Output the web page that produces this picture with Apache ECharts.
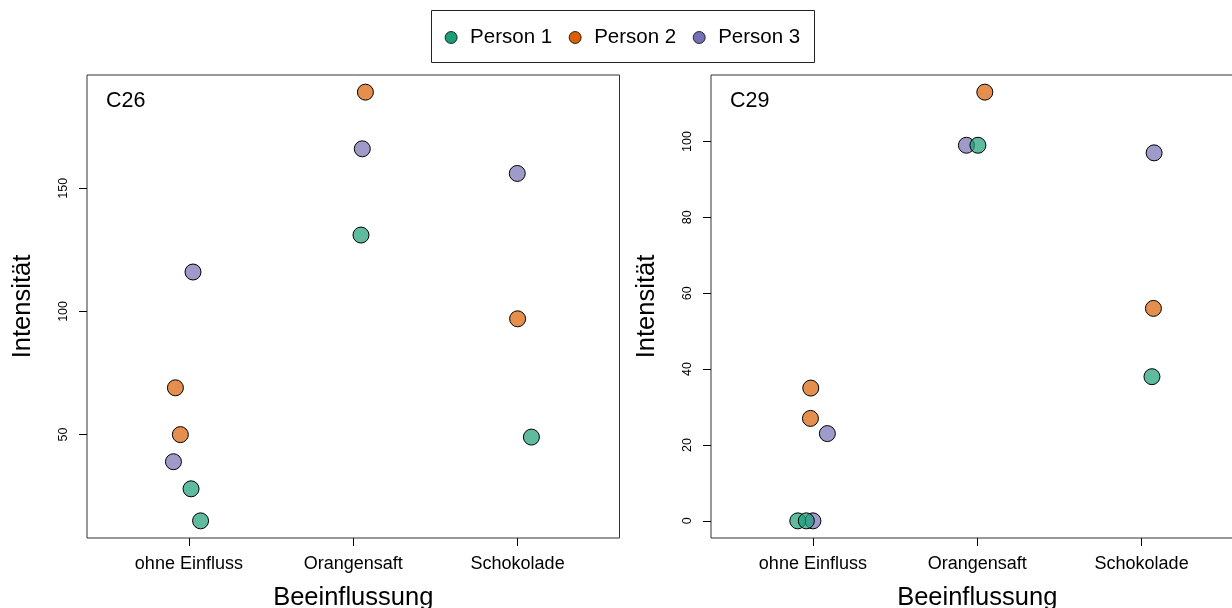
<!DOCTYPE html>
<html>
<head>
<meta charset="utf-8">
<script src="https://cdn.jsdelivr.net/npm/echarts@6/dist/echarts.min.js"></script>
<style>
html,body{margin:0;padding:0;background:#fff;}
#chart{width:1232px;height:608px;}
</style>
</head>
<body>
<div id="chart"></div>
<script>
// ---- data ----
const categories = ['ohne Einfluss', 'Orangensaft', 'Schokolade'];
const categoryPositions = [1, 2, 3];
const persons = ['Person 1', 'Person 2', 'Person 3'];
const personColors = ['#1B9E77', '#D95F02', '#7570B3'];
const panelTitles = ['C26', 'C29'];

// C26 (jittered category position, intensity)
const c26_p1_x = [1.013, 1.071, 2.047, 3.084];
const c26_p1_y = [28, 15, 131, 49];
const c26_p2_x = [0.918, 0.948, 2.074, 3.000];
const c26_p2_y = [69, 50, 189, 97];
const c26_p3_x = [1.025, 0.906, 2.055, 2.998];
const c26_p3_y = [116, 39, 166, 156];
const c26_yTicks = [50, 100, 150];

// C29
const c29_p1_x = [0.908, 0.960, 2.004, 3.063];
const c29_p1_y = [0, 0, 99, 38];
const c29_p2_x = [0.987, 0.985, 2.046, 3.072];
const c29_p2_y = [35, 27, 113, 56];
const c29_p3_x = [1.000, 1.088, 1.934, 3.076];
const c29_p3_y = [0, 23, 99, 97];
const c29_yTicks = [0, 20, 40, 60, 80, 100];

// ---- helpers ----
const FONT = '"Liberation Sans", Arial, Helvetica, sans-serif';
function zip(xs, ys) { return xs.map((x, i) => [x, ys[i]]); }
function rExtent(vals) {
  const mn = Math.min(...vals), mx = Math.max(...vals);
  const pad = (mx - mn) * 0.04;
  return [mn - pad, mx + pad];
}
function rgba(hex, a) {
  const n = parseInt(hex.slice(1), 16);
  return 'rgba(' + (n >> 16) + ',' + ((n >> 8) & 255) + ',' + (n & 255) + ',' + a + ')';
}

const panels = [
  { xs: [c26_p1_x, c26_p2_x, c26_p3_x], ys: [c26_p1_y, c26_p2_y, c26_p3_y], ticks: c26_yTicks },
  { xs: [c29_p1_x, c29_p2_x, c29_p3_x], ys: [c29_p1_y, c29_p2_y, c29_p3_y], ticks: c29_yTicks }
];
const xExt = [0.5 - 0.12, 3.5 + 0.12];

const grids = [
  { left: 87, top: 75, width: 532.5, height: 463 },
  { left: 711, top: 75, width: 532.5, height: 463 }
];

const xAxes = [], yAxes = [], series = [];
panels.forEach((p, gi) => {
  const allY = [].concat(...p.ys);
  const yExt = rExtent(allY);
  xAxes.push({
    type: 'value', gridIndex: gi, min: xExt[0], max: xExt[1], position: 'bottom',
    splitLine: { show: false },
    axisLine: { show: false, onZero: false },
    axisTick: { show: true, customValues: categoryPositions, length: 8, lineStyle: { color: '#000' } },
    axisLabel: {
      customValues: categoryPositions, margin: 17, color: '#000', fontSize: 18, fontFamily: FONT,
      formatter: v => categories[Math.round(v) - 1]
    },
    name: 'Beeinflussung', nameLocation: 'middle', nameGap: 47,
    nameTextStyle: { color: '#000', fontSize: 25.5, fontFamily: FONT }
  });
  yAxes.push({
    type: 'value', gridIndex: gi, min: yExt[0], max: yExt[1], position: 'left',
    splitLine: { show: false },
    axisLine: { show: false, onZero: false },
    axisTick: { show: true, customValues: p.ticks, length: 8, lineStyle: { color: '#000' } },
    axisLabel: {
      customValues: p.ticks, rotate: 90, margin: 17, color: '#000', fontSize: 12.5, fontFamily: FONT
    },
    name: 'Intensität', nameLocation: 'middle', nameGap: 51,
    nameTextStyle: { color: '#000', fontSize: 25.5, fontFamily: FONT }
  });
  persons.forEach((name, si) => {
    series.push({
      type: 'scatter', name: name, xAxisIndex: gi, yAxisIndex: gi,
      z: 10 - si,
      symbol: 'circle', symbolSize: 16,
      itemStyle: { color: rgba(personColors[si], 0.7), borderColor: '#000', borderWidth: 1, opacity: 1 },
      emphasis: { disabled: true },
      data: zip(p.xs[si], p.ys[si])
    });
  });
});

const option = {
  animation: false,
  backgroundColor: '#fff',
  textStyle: { fontFamily: FONT },
  grid: grids.map(g => Object.assign({ show: true, borderColor: '#333', borderWidth: 1, backgroundColor: 'transparent', containLabel: false, outerBoundsMode: 'none' }, g)),
  xAxis: xAxes,
  yAxis: yAxes,
  legend: {
    left: 444.7, top: 27, padding: 0,
    itemWidth: 28, itemHeight: 12, itemGap: 16.6,
    icon: 'circle',
    textStyle: { color: '#000', fontSize: 20.5, fontFamily: FONT },
    data: persons.map((n, i) => ({ name: n, itemStyle: { color: personColors[i], borderColor: '#000', borderWidth: 0.8, opacity: 1 } }))
  },
  graphic: [
    { type: 'rect', shape: { x: 431.5, y: 10.5, width: 383, height: 52 }, style: { fill: 'none', stroke: '#222', lineWidth: 1 }, silent: true },
    { type: 'text', left: 106, top: 90, style: { text: panelTitles[0], fill: '#000', font: '21.5px ' + FONT } },
    { type: 'text', left: 730, top: 90, style: { text: panelTitles[1], fill: '#000', font: '21.5px ' + FONT } }
  ],
  series: series
};

const chart = echarts.init(document.getElementById('chart'), null, { renderer: 'canvas' });
chart.setOption(option);
</script>
</body>
</html>
